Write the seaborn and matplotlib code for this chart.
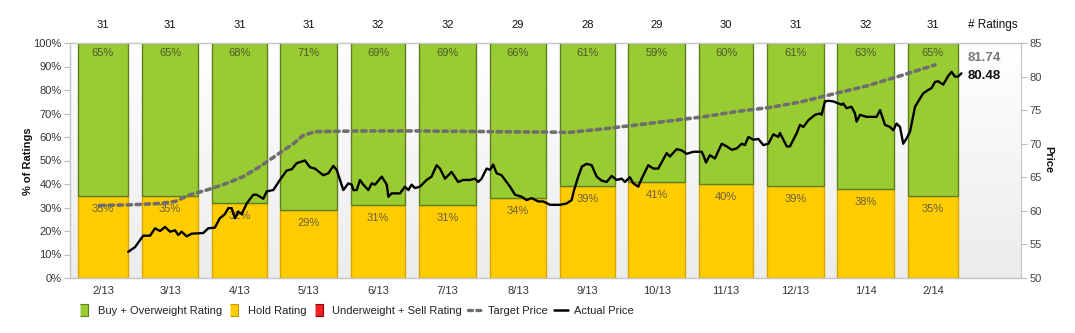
import numpy as np
import pandas as pd
import matplotlib
matplotlib.use("Agg")
import matplotlib.pyplot as plt
import matplotlib.transforms as mtransforms
from matplotlib.lines import Line2D
import seaborn as sns

# ---------------- data ----------------
months = ['2/13', '3/13', '4/13', '5/13', '6/13', '7/13', '8/13', '9/13',
          '10/13', '11/13', '12/13', '1/14', '2/14']
n_ratings = [31, 31, 31, 31, 32, 32, 29, 28, 29, 30, 31, 32, 31]
buy_pct = [65, 65, 68, 71, 69, 69, 66, 61, 59, 60, 61, 63, 65]
hold_pct = [35, 35, 32, 29, 31, 31, 34, 39, 41, 40, 39, 38, 35]
sell_pct = [0] * 13

# days since 2013-02-01
target_day = [9.7, 22.9, 36.1, 42.7, 49.3, 56.6, 63.9, 72.7, 80.0, 87.4, 94.7,
              98.9, 104.2, 124.0, 150.4, 181.2, 216.4, 230.9, 245.7, 260.3,
              274.8, 289.7, 304.3, 317.5, 332.0, 346.8, 361.5, 376.9]
target_price = [60.8, 60.9, 61.1, 61.4, 62.4, 63.1, 63.9, 65.1, 66.6, 68.3, 70.0,
                71.2, 71.8, 71.9, 71.9, 71.8, 71.7, 72.2, 72.8, 73.4,
                74.0, 74.8, 75.4, 76.2, 77.4, 78.6, 80.1, 81.74]

actual_day = [22.1, 25.1, 28.7, 31.7, 33.9, 36.1, 38.3, 40.5, 42.7, 44.1, 45.6,
              47.8, 50.0, 55.1, 57.3, 60.2, 62.4, 64.6, 66.1, 67.6, 69.0, 70.5,
              72.0, 74.2, 77.1, 78.6, 81.5, 83.0, 85.9, 88.8, 91.8, 94.0, 96.2,
              99.8, 102.0, 104.2, 107.9, 110.1, 112.3, 113.8, 116.7, 118.9,
              120.4, 121.1, 122.6, 124.0, 125.5, 127.7, 129.2, 130.6, 133.6,
              135.8, 136.5, 137.9, 141.6, 143.8, 145.3, 146.7, 148.2, 150.4,
              153.3, 155.5, 157.7, 159.2, 161.4, 164.3, 167.2, 169.4, 172.4,
              174.6, 176.0, 177.5, 179.7, 181.2, 182.6, 184.1, 186.3, 190.0,
              192.2, 195.1, 197.3, 199.5, 202.4, 204.6, 207.6, 212.0, 214.9,
              217.1, 218.1, 219.9, 221.6, 223.7, 225.9, 228.1, 230.3, 232.5,
              234.7, 236.9, 239.1, 240.5, 242.7, 244.2, 246.4, 247.9, 250.8,
              253.0, 255.2, 258.9, 260.3, 263.3, 265.5, 267.7, 270.6, 274.3,
              275.0, 276.2, 277.9, 280.1, 283.1, 285.3, 287.5, 289.7, 291.9,
              293.3, 294.8, 297.0, 299.2, 301.4, 303.6, 305.8, 308.0, 308.7,
              311.7, 313.1, 316.1, 317.5, 319.0, 321.2, 324.1, 326.3, 327.0,
              328.5, 330.0, 332.2, 334.4, 335.8, 336.5, 338.0, 340.2, 341.7,
              342.4, 343.9, 346.8, 351.2, 352.7, 354.9, 357.1, 358.5, 360.0,
              361.5, 362.9, 364.4, 365.9, 368.1, 369.5, 371.7, 373.9, 375.4,
              376.9, 378.3, 380.5, 382.7, 384.2, 385.6, 387.0, 388.5]
actual_price = [53.9, 54.6, 56.3, 56.3, 57.4, 57.0, 57.6, 56.9, 57.1, 56.4, 56.9,
                56.2, 56.6, 56.7, 57.4, 57.5, 58.9, 59.5, 60.4, 60.4, 58.9, 59.9,
                59.5, 61.1, 62.4, 62.4, 61.8, 62.9, 63.1, 64.6, 66.0, 66.2, 67.1,
                67.5, 66.5, 66.3, 65.3, 65.6, 66.7, 66.1, 63.1, 64.1,
                63.9, 63.1, 63.1, 64.6, 63.9, 63.1, 64.1, 63.9, 65.1,
                63.9, 62.1, 62.6, 62.6, 63.6, 63.1, 63.9, 63.4, 63.6,
                64.6, 65.1, 66.8, 66.3, 64.8, 65.8, 64.3, 64.6, 64.6,
                64.8, 64.3, 64.8, 66.3, 66.1, 66.9, 65.6, 65.3, 63.6,
                62.4, 62.1, 61.6, 61.9, 61.4, 61.4, 60.9, 60.9, 61.1,
                61.6, 63.0, 65.0, 66.6, 67.0, 66.8, 65.1, 64.5, 64.3,
                65.2, 64.6, 64.8, 64.3, 65.0, 64.1, 63.6, 64.8, 66.8,
                66.3, 66.3, 68.6, 68.1, 69.2, 69.0, 68.5, 68.8, 68.8,
                68.3, 67.2, 68.3, 67.8, 70.0, 69.6, 69.1, 69.3, 70.0,
                69.8, 71.0, 70.6, 70.7, 69.8, 70.0, 71.4, 71.0, 71.6,
                69.6, 69.6, 71.6, 72.8, 72.5, 73.5, 74.3, 74.5, 74.3,
                76.3, 76.4, 76.3, 76.0, 75.8, 76.0, 75.3, 75.5, 74.5,
                73.3, 74.3, 74.0, 74.0, 75.0, 72.8, 72.5, 72.0, 73.0,
                72.5, 70.0, 70.8, 71.8, 75.5, 76.3, 77.5, 78.0, 78.3,
                79.2, 79.3, 78.8, 80.1, 80.7, 80.0, 80.0, 80.48]

pct_ticks = list(range(0, 101, 10))
price_ticks = list(range(50, 86, 5))

# ---------------- style ----------------
sns.set_style("white")
plt.rcParams['font.family'] = ['Liberation Sans', 'DejaVu Sans']

W, H = 1075, 333
fig = plt.figure(figsize=(W / 100, H / 100), dpi=100)
L, R, T, B = 70, 1021, 43, 278
ax = fig.add_axes([L / W, 1 - B / H, (R - L) / W, (B - T) / H])

# background gradient
grad = np.linspace(1.0, 0.0, 256).reshape(-1, 1)
top_c = np.array([1.0, 1.0, 1.0])
bot_c = np.array([0.925, 0.925, 0.925])
img = grad[..., None] * top_c + (1 - grad[..., None]) * bot_c
ax.imshow(img, extent=[0, 1, 0, 1], transform=ax.transAxes, aspect='auto', zorder=0)

# bar geometry from the month calendar
starts = pd.date_range('2013-02-01', periods=len(months), freq='MS')
start_day = np.asarray((starts - starts[0]).days, dtype=float)
mdays = np.asarray(starts.days_in_month, dtype=float)
widths = mdays - 6.0
centers = start_day + widths / 2

hold = np.array(hold_pct, dtype=float)
buy_bottom = hold
buy_height = 100 - hold

ax.bar(start_day, hold, width=widths, align='edge', color='#ffcc00',
       edgecolor='#d9a400', linewidth=1.0, zorder=2)
ax.bar(start_day, buy_height, bottom=buy_bottom, width=widths, align='edge',
       color='#99cc33', edgecolor='#5f7f1f', linewidth=1.0, zorder=2)

# labels on bars
off = mtransforms.offset_copy
for c, b, h in zip(centers, buy_pct, hold_pct):
    ax.text(c, 100, f"{b}%", transform=off(ax.transData, fig=fig, x=0, y=-10, units='dots'),
            ha='center', va='center', fontsize=8, color='#4a5a2a', zorder=5)
    ax.text(c, h, f"{h}%", transform=off(ax.transData, fig=fig, x=0, y=-13, units='dots'),
            ha='center', va='center', fontsize=8, color='#6a6040', zorder=5)

# counts on top
blend = mtransforms.blended_transform_factory(ax.transData, ax.transAxes)
for c, n in zip(centers, n_ratings):
    ax.text(c, 1 + 18 / (B - T), str(n), transform=blend, ha='center', va='center',
            fontsize=8, color='#111111')
fig.text(968 / W, 1 - 25 / H, '# Ratings', ha='left', va='center', fontsize=8.5,
         color='#111111')

ax.set_xlim(-3.5, 414.7)
ax.set_ylim(0, 100)
ax.set_yticks(pct_ticks)
ax.set_yticklabels([f"{p}%" for p in pct_ticks])
ax.set_xticks(centers)
ax.set_xticklabels(months)
ax.tick_params(axis='x', length=0, pad=6, labelsize=8, labelcolor='#333333')
ax.tick_params(axis='y', length=4, width=0.8, color='#bbbbbb', pad=2, labelsize=8,
               labelcolor='#333333', left=True)
for s in ['left', 'bottom', 'top']:
    ax.spines[s].set_color('#c4c4c4')
    ax.spines[s].set_linewidth(1.0)
ax.spines['right'].set_visible(False)

# price axis
ax2 = ax.twinx()
pt = pd.DataFrame({'day': target_day, 'price': target_price})
pa = pd.DataFrame({'day': actual_day, 'price': actual_price})
sns.lineplot(data=pt, x='day', y='price', ax=ax2, color='#6e6e6e', linewidth=2.6,
             linestyle=(0, (1.2, 1.3)), dash_capstyle='round', zorder=4)
sns.lineplot(data=pa, x='day', y='price', ax=ax2, color='#000000', linewidth=1.7,
             zorder=5)
ax2.lines[0].set_dash_capstyle('round')
ax2.set_ylim(50, 85)
ax2.set_xlim(-3.5, 414.7)
ax2.set_yticks(price_ticks)
ax2.set_xlabel('')
ax2.set_ylabel('')
ax2.tick_params(axis='y', length=4, width=0.8, color='#bbbbbb', pad=2, labelsize=8,
                labelcolor='#444444', right=True)
for s in ['left', 'bottom', 'top']:
    ax2.spines[s].set_visible(False)
ax2.spines['right'].set_color('#c4c4c4')

fig.text(968 / W, 1 - 58 / H, f"{target_price[-1]:.2f}", ha='left', va='center',
         fontsize=9.5, color='#777777', fontweight='bold')
fig.text(968 / W, 1 - 76 / H, f"{actual_price[-1]:.2f}", ha='left', va='center',
         fontsize=9.5, color='#111111', fontweight='bold')

fig.text(28 / W, 1 - 161 / H, '% of Ratings', rotation=90, ha='center', va='center',
         fontsize=8, fontweight='bold', color='#111111')
fig.text(1048 / W, 1 - 160 / H, 'Price', rotation=270, ha='center', va='center',
         fontsize=8, fontweight='bold', color='#111111')

# legend
rect = [(-0.28, -0.5), (0.28, -0.5), (0.28, 0.5), (-0.28, 0.5)]
handles = [
    Line2D([], [], linestyle='none', marker=rect, markersize=9, markerfacecolor='#99cc33',
           markeredgecolor='#5f7f1f', markeredgewidth=0.8),
    Line2D([], [], linestyle='none', marker=rect, markersize=9, markerfacecolor='#ffcc00',
           markeredgecolor='#c89600', markeredgewidth=0.8),
    Line2D([], [], linestyle='none', marker=rect, markersize=9, markerfacecolor='#ee2222',
           markeredgecolor='#990000', markeredgewidth=0.8),
    Line2D([], [], color='#6e6e6e', linewidth=2.4, linestyle=(0, (1.2, 1.3)),
           dash_capstyle='round'),
    Line2D([], [], color='#000000', linewidth=1.8),
]
labels = ['Buy + Overweight Rating', 'Hold Rating', 'Underweight + Sell Rating',
          'Target Price', 'Actual Price']
fig.legend(handles, labels, loc='center left', bbox_to_anchor=(77 / W, 1 - 311 / H),
           ncol=5, frameon=False, fontsize=8, handlelength=1.3, handletextpad=0.55,
           columnspacing=0.5, borderpad=0, borderaxespad=0, labelcolor='#222222')

fig.savefig('out.png', dpi=100)
